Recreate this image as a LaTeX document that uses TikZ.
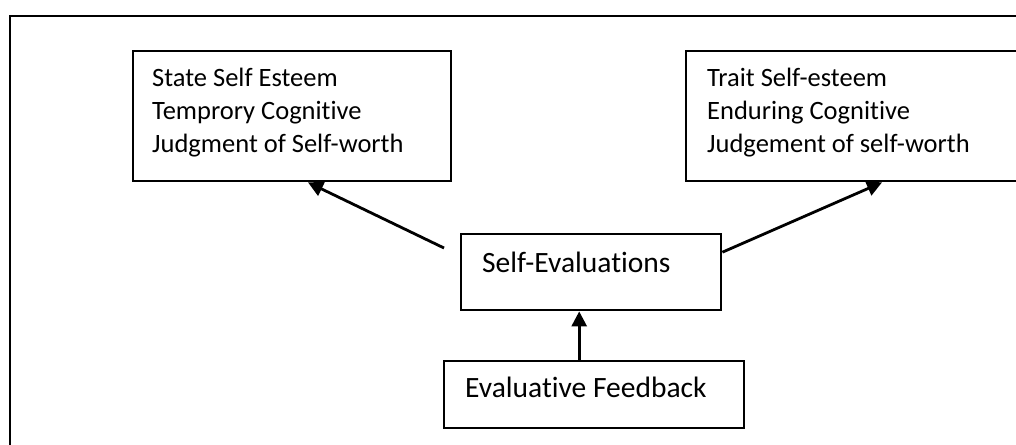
\documentclass[tikz,border=0pt]{standalone}
\usepackage{fontspec}
\setmainfont{Carlito}[Ligatures=NoCommon]
\usetikzlibrary{arrows.meta}
\begin{document}
\begin{tikzpicture}[x=1pt,y=-1pt,
  box/.style={draw, line width=2.4pt, rectangle, inner sep=0pt, anchor=north west},
  lbl/.style={font=\fontsize{26.5}{33}\selectfont, align=left, inner sep=0pt, anchor=base west},
  biglbl/.style={lbl, font=\fontsize{29.5}{35}\selectfont},
  arr/.style={line width=2.8pt, -{Triangle[length=15pt,width=15pt]}}]
  % canvas and frame
  \clip (0,0) rectangle (1016,444);
  \draw[line width=2.6pt] (10,16) rectangle (1040,470);

  % boxes
  \node[box, minimum width=318pt, minimum height=130pt] (state) at (132,50) {};
  \node[box, minimum width=345pt, minimum height=130pt] (trait) at (685,50) {};
  \node[box, minimum width=260pt, minimum height=76pt] (selfev) at (460,233) {};
  \node[box, minimum width=300pt, minimum height=67pt] (fb) at (443,360) {};

  % labels (base anchor sits on the last line)
  \node[lbl] (statetxt) at ([xshift=20pt,yshift=-102pt]state.north west)
    {State Self Esteem\\Temprory Cognitive\\Judgment of Self-worth};
  \node[lbl] (traittxt) at ([xshift=22pt,yshift=-102pt]trait.north west)
    {Trait Self-esteem\\Enduring Cognitive\\Judgement of self-worth};
  \node[biglbl] (selfevtxt) at ([xshift=22pt,yshift=-39pt]selfev.north west) {Self-Evaluations};
  \node[biglbl] (fbtxt) at ([xshift=22pt,yshift=-37pt]fb.north west) {Evaluative Feedback};

  % connectors
  \coordinate (lstart) at (444,248);
  \draw[arr] (lstart) -- ([xshift=176pt]state.south west);
  \draw[arr] ([yshift=20pt]selfev.east) -- ([xshift=197pt]trait.south west);
  \draw[arr] ([xshift=-15pt]fb.north) -- ([xshift=-12pt]selfev.south);
\end{tikzpicture}
\end{document}
